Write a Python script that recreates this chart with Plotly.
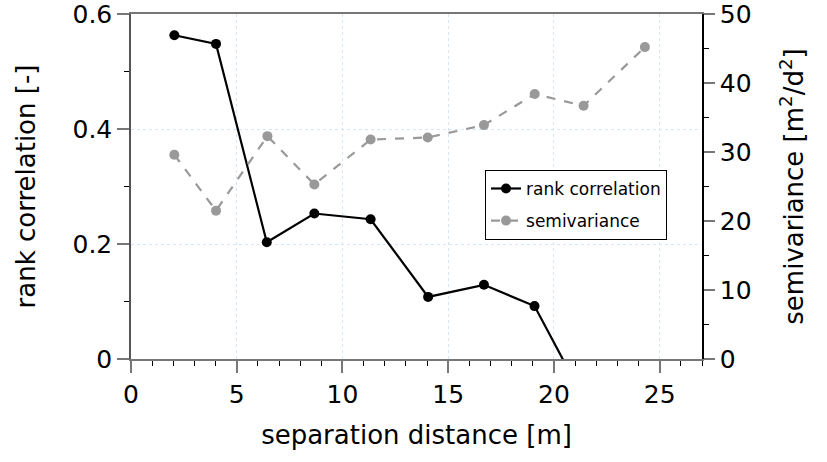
import plotly.graph_objects as go

# data
rc_x = [2.05, 4.02, 6.42, 8.67, 11.33, 14.05, 16.69, 19.08, 21.4]
rc_y = [0.563, 0.548, 0.203, 0.253, 0.243, 0.108, 0.129, 0.092, -0.068]
sv_x = [2.05, 4.02, 6.45, 8.67, 11.33, 14.03, 16.69, 19.09, 21.4, 24.3]
sv_y = [29.6, 21.5, 32.3, 25.3, 31.8, 32.1, 33.9, 38.4, 36.7, 45.2]

FONT = "DejaVu Sans, Liberation Sans, Arial, sans-serif"
GRID = "#d6e6f5"

fig = go.Figure()
fig.add_trace(go.Scatter(
    x=rc_x, y=rc_y, mode="lines+markers", name="rank correlation",
    line=dict(color="black", width=2.2),
    marker=dict(color="black", size=10),
    yaxis="y", cliponaxis=True, legendgroup="a",
))
fig.add_trace(go.Scatter(
    x=sv_x, y=sv_y, mode="lines+markers", name="semivariance",
    line=dict(color="#999999", width=2.2, dash="dash"),
    marker=dict(color="#999999", size=10),
    yaxis="y2", legendgroup="b",
))

fig.update_layout(
    width=827, height=462,
    margin=dict(l=131, r=125, t=14, b=103),
    paper_bgcolor="white", plot_bgcolor="white",
    font=dict(family=FONT, size=25, color="black"),
    showlegend=True,
    legend=dict(
        x=0.62, y=0.548, xanchor="left", yanchor="top",
        bordercolor="black", borderwidth=1, bgcolor="white",
        font=dict(size=17), tracegroupgap=7, itemwidth=30,
        traceorder="grouped",
    ),
    xaxis=dict(
        range=[0, 27], dtick=5, tick0=0, automargin=False,
        showline=True, linecolor="#777777", linewidth=1.5, mirror=True,
        ticks="outside", ticklen=12, tickcolor="#777777", tickwidth=1.5,
        minor=dict(dtick=1, ticks="outside", ticklen=5, tickcolor="black", tickwidth=1, showgrid=False),
        showgrid=True, gridcolor=GRID, griddash="dot", gridwidth=1,
        zeroline=False, ticklabeloverflow="allow",
        title=dict(text="separation distance [m]", font=dict(size=26), standoff=18),
        tickfont=dict(size=25),
    ),
    yaxis=dict(
        range=[0, 0.6], automargin=False,
        tickvals=[0, 0.2, 0.4, 0.6], ticktext=["0", "0.2", "0.4", "0.6"],
        showline=True, linecolor="#555555", linewidth=1.5,
        ticks="outside", ticklen=12, tickcolor="#777777", tickwidth=1.5,
        minor=dict(tickvals=[0.1, 0.3, 0.5], ticks="outside", ticklen=5, tickcolor="black", tickwidth=1, showgrid=False),
        showgrid=True, gridcolor=GRID, griddash="dot", gridwidth=1,
        zeroline=False, ticklabeloverflow="allow",
        title=dict(text="rank correlation [-]", font=dict(size=26), standoff=29),
        tickfont=dict(size=25),
    ),
    yaxis2=dict(
        range=[0, 50], dtick=10, overlaying="y", side="right", automargin=False,
        showline=True, linecolor="black", linewidth=1.5,
        ticks="outside", ticklen=11, tickcolor="#777777", tickwidth=1.5,
        minor=dict(dtick=5, ticks="outside", ticklen=5, tickcolor="black", tickwidth=1, showgrid=False),
        showgrid=False, zeroline=False, ticklabeloverflow="allow",
        title=dict(text="semivariance [m<sup>2</sup>/d<sup>2</sup>]", font=dict(size=26), standoff=34),
        tickfont=dict(size=25),
    ),
)

fig.write_html("out.html")
